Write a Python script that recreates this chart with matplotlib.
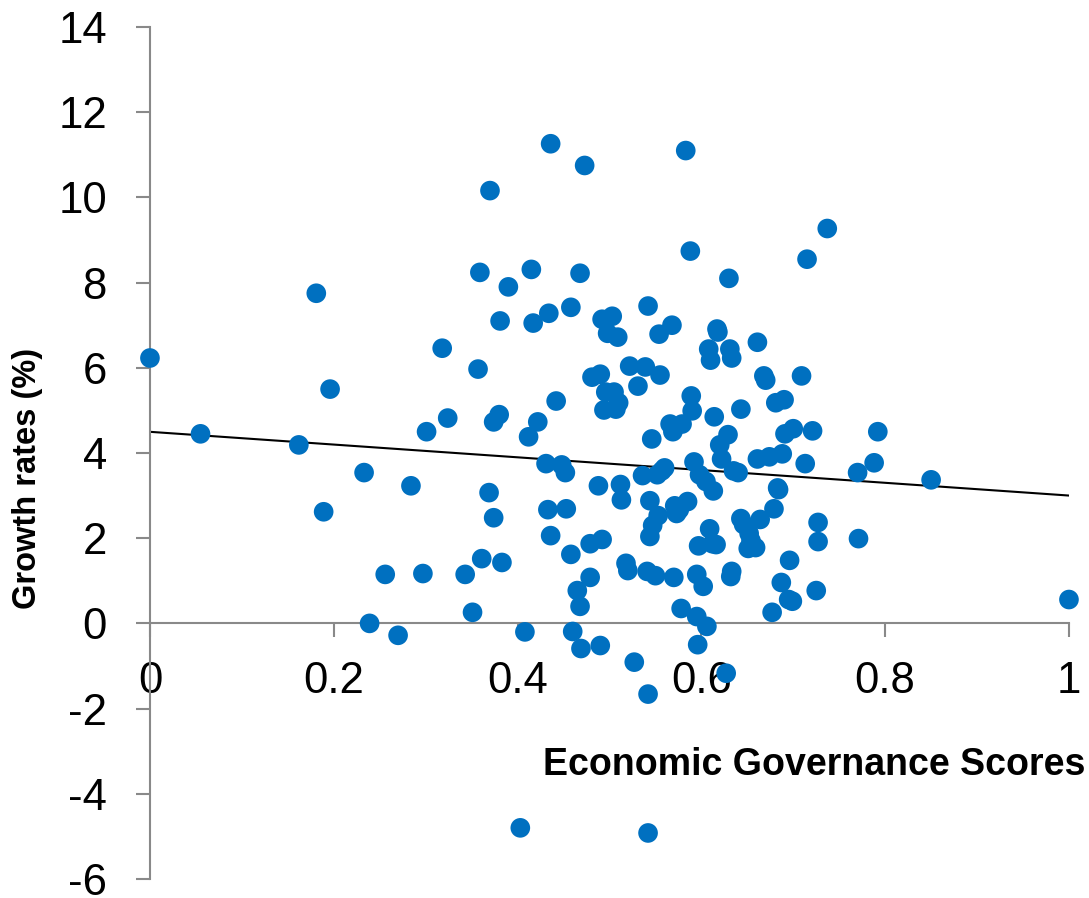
import numpy as np
import matplotlib
matplotlib.use("Agg")
from matplotlib import pyplot as plt
from matplotlib import font_manager

# governance score (x) and growth rate in % (y) per country-period
scores = [
    0.000, 0.055, 0.162, 0.181, 0.189, 0.196, 0.233, 0.239, 0.256, 0.270,
    0.284, 0.297, 0.301, 0.318, 0.324, 0.343, 0.351, 0.357, 0.359, 0.361,
    0.369, 0.370, 0.374, 0.374, 0.380, 0.381, 0.383, 0.390, 0.403, 0.408,
    0.412, 0.415, 0.417, 0.422, 0.431, 0.433, 0.434, 0.436, 0.436, 0.442,
    0.448, 0.452, 0.453, 0.458, 0.458, 0.460, 0.465, 0.468, 0.468, 0.469,
    0.473, 0.479, 0.479, 0.481, 0.488, 0.490, 0.490, 0.492, 0.492, 0.494,
    0.496, 0.498, 0.503, 0.505, 0.507, 0.509, 0.510, 0.512, 0.513, 0.518,
    0.520, 0.522, 0.527, 0.531, 0.536, 0.539, 0.542, 0.541, 0.542, 0.542,
    0.544, 0.544, 0.546, 0.547, 0.550, 0.552, 0.553, 0.554, 0.555, 0.557,
    0.560, 0.566, 0.568, 0.569, 0.570, 0.571, 0.573, 0.576, 0.578, 0.579,
    0.583, 0.585, 0.588, 0.589, 0.590, 0.592, 0.595, 0.595, 0.596, 0.597,
    0.598, 0.602, 0.605, 0.606, 0.608, 0.609, 0.610, 0.612, 0.613, 0.614,
    0.616, 0.617, 0.618, 0.620, 0.622, 0.627, 0.629, 0.630, 0.631, 0.632,
    0.633, 0.633, 0.635, 0.640, 0.643, 0.643, 0.646, 0.651, 0.652, 0.654,
    0.659, 0.661, 0.661, 0.664, 0.668, 0.670, 0.674, 0.677, 0.679, 0.681,
    0.683, 0.684, 0.687, 0.688, 0.690, 0.691, 0.695, 0.696, 0.699, 0.700,
    0.709, 0.713, 0.715, 0.721, 0.725, 0.727, 0.727, 0.737, 0.770, 0.771,
    0.788, 0.792, 0.850, 1.000,
]
growth = [
    6.23, 4.45, 4.19, 7.75, 2.62, 5.50, 3.54, 0.00, 1.15, -0.28,
    3.23, 1.17, 4.50, 6.46, 4.82, 1.15, 0.26, 5.97, 8.24, 1.52,
    3.07, 10.16, 4.73, 2.48, 4.90, 7.10, 1.43, 7.90, -4.80, -0.20,
    4.38, 8.31, 7.05, 4.73, 3.75, 2.67, 7.28, 2.06, 11.26, 5.22,
    3.72, 3.54, 2.69, 7.42, 1.62, -0.19, 0.77, 8.22, 0.40, -0.59,
    10.75, 1.87, 1.08, 5.78, 3.23, -0.52, 5.85, 7.14, 1.97, 5.01,
    5.43, 6.81, 7.21, 5.43, 5.03, 6.72, 5.18, 3.26, 2.90, 1.41,
    1.24, 6.04, -0.91, 5.57, 3.47, 6.02, 7.45, 1.22, -4.92, -1.66,
    2.04, 2.88, 4.33, 2.30, 1.12, 3.49, 2.53, 6.79, 5.83, 3.58,
    3.65, 4.68, 7.00, 4.50, 1.08, 2.76, 2.58, 2.67, 0.35, 4.68,
    11.10, 2.86, 8.74, 5.34, 4.99, 3.79, 1.15, 0.16, -0.50, 1.82,
    3.49, 0.87, 3.33, -0.07, 6.44, 2.22, 6.18, 1.87, 3.11, 4.85,
    1.85, 6.91, 6.84, 4.19, 3.86, -1.17, 4.43, 8.10, 6.44, 1.10,
    1.22, 6.23, 3.58, 3.54, 5.03, 2.46, 2.32, 1.76, 2.11, 1.94,
    1.78, 3.86, 6.60, 2.44, 5.81, 5.71, 3.91, 0.26, 2.69, 5.18,
    3.18, 3.14, 0.96, 3.98, 5.25, 4.45, 0.56, 1.48, 0.52, 4.57,
    5.81, 3.75, 8.55, 4.52, 0.77, 1.92, 2.37, 9.27, 3.54, 1.99,
    3.77, 4.50, 3.37, 0.56,
]

x_ticks = [0, 0.2, 0.4, 0.6, 0.8, 1]
x_tick_labels = ["0", "0.2", "0.4", "0.6", "0.8", "1"]
y_ticks = list(range(-6, 15, 2))

plt.rcParams["font.family"] = ["Liberation Sans", "DejaVu Sans"]
plt.rcParams["axes.unicode_minus"] = False

# titles use a narrow bold face when one is installed
installed = {f.name for f in font_manager.fontManager.ttflist}
if "Liberation Sans Narrow" in installed:
    title_family = ["Liberation Sans Narrow", "Liberation Sans"]
    xlab_size, ylab_size = 32, 28
else:
    title_family = ["Liberation Sans", "DejaVu Sans"]
    xlab_size, ylab_size = 27, 23.5

blue = "#0070C0"
grey = "#898989"

fig = plt.figure(figsize=(10.89, 8.98), dpi=100)
ax = fig.add_axes([0.1377, 0.0212, 0.8439, 0.9487])

x = np.array(scores)
y = np.array(growth)
ax.scatter(x, y, s=200, color=blue, edgecolors="none", zorder=3, clip_on=False)

# linear trend
slope, intercept = np.polyfit(x, y, 1)
xs = np.array([0.0, 1.0])
ax.plot(xs, intercept + slope * xs, color="black", lw=1.5, zorder=2)

ax.set_xlim(0, 1)
ax.set_ylim(-6, 14)
ax.set_xticks(x_ticks)
ax.set_xticklabels(x_tick_labels)
ax.set_yticks(y_ticks)

for side in ("top", "right"):
    ax.spines[side].set_visible(False)
ax.spines["bottom"].set_position(("data", 0))
for side in ("left", "bottom"):
    ax.spines[side].set_color(grey)
    ax.spines[side].set_linewidth(1.5)

ax.tick_params(axis="both", direction="out", length=10, width=1.5, color=grey,
               labelsize=31.5, labelcolor="black")
ax.tick_params(axis="y", pad=21)
ax.tick_params(axis="x", pad=17)

ax.text(1.0174, 0.1221, "Economic Governance Scores", transform=ax.transAxes,
        ha="right", va="baseline", fontsize=xlab_size, fontweight="bold",
        family=title_family)
ax.text(-0.133, 0.4707, "Growth rates (%)", transform=ax.transAxes,
        ha="center", va="center", rotation=90, fontsize=ylab_size,
        fontweight="bold", family=title_family)

fig.savefig("out.png", dpi=100)
